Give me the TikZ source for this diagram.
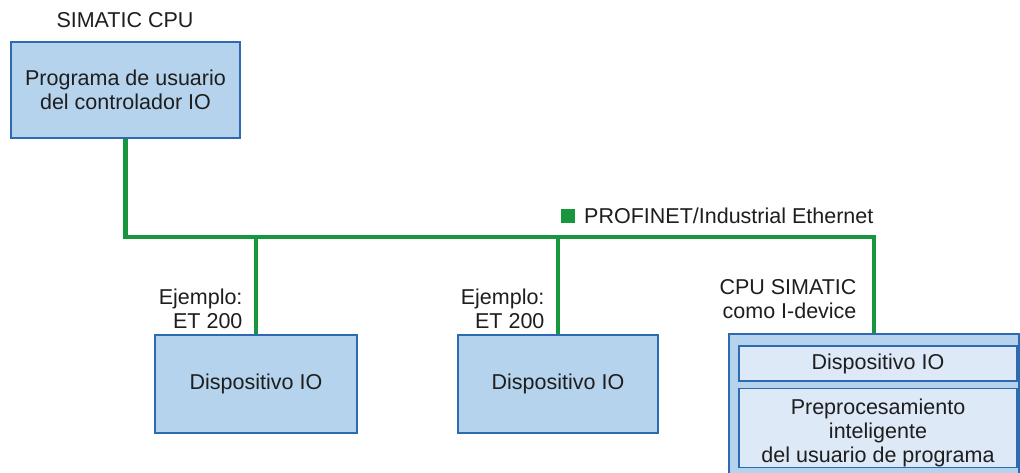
\documentclass[tikz,border=0pt]{standalone}
\usepackage{fontspec}
\setmainfont{Liberation Sans}
\usepackage{tikz}
\usetikzlibrary{positioning}

\definecolor{boxfill}{RGB}{181,211,236}
\definecolor{boxline}{RGB}{46,106,178}
\definecolor{innerfill}{RGB}{221,233,246}
\definecolor{busgreen}{RGB}{24,150,62}
\definecolor{txt}{RGB}{30,30,30}

\begin{document}
\begin{tikzpicture}[x=1pt, y=-1pt, every node/.style={font=\fontsize{21.5}{24}\selectfont, text=txt},
	unit/.style={draw=boxline, line width=1.6pt, fill=boxfill, align=center, inner sep=0pt},
	subunit/.style={draw=boxline, line width=1.6pt, fill=innerfill, align=center, inner sep=0pt},
	bus/.style={busgreen, line width=4.5pt, line join=miter}]
	\clip (0,0) rectangle (1020,473);
	\fill[white] (0,0) rectangle (1020,473);
	% controller
	\node[unit, minimum width=229pt, minimum height=96pt] (ctrl) at (125.5,90) {Programa de usuario\\del controlador IO};
	\node (cpulbl) at (125,20) {SIMATIC CPU};
	% devices
	\node[unit, minimum width=202pt, minimum height=98pt] (dev1) at (256,384) {Dispositivo IO};
	\node[unit, minimum width=200pt, minimum height=98pt] (dev2) at (558,384) {Dispositivo IO};
	\node[align=right, anchor=east] (et1) at (246,309) {Ejemplo:\\ET 200};
	\node[align=right, anchor=east] (et2) at (548,309) {Ejemplo:\\ET 200};
	% I-device
	\node[unit, minimum width=290pt, minimum height=160pt] (idev) at (874,414) {};
	\node[subunit, minimum width=278pt, minimum height=35pt] (idevio) at (878,363.5) {Dispositivo IO};
	\node[subunit, minimum width=278pt, minimum height=79pt] (idevpre) at (878,428) {\rule{0pt}{26pt}Preprocesamiento\\inteligente\\del usuario de programa};
	\node[align=right, anchor=east] (idevlbl) at (860,299) {CPU SIMATIC\\como I-device};
	% bus
	\coordinate (busR) at (874,237);
	\draw[bus] (ctrl.south) |- (busR) -- (idev.north);
	\draw[bus] (dev1.north) -- (dev1.north |- busR);
	\draw[bus] (dev2.north) -- (dev2.north |- busR);
	\node[fill=busgreen, minimum size=14pt, inner sep=0pt] (netsq) at (568,216.5) {};
	\node[anchor=west, inner sep=0pt] (netlbl) at (584,216) {PROFINET/Industrial Ethernet};
\end{tikzpicture}
\end{document}
